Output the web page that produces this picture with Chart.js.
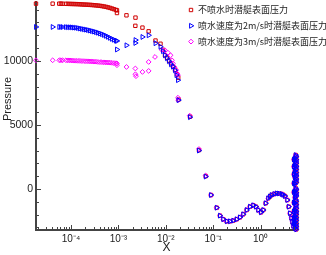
<!DOCTYPE html>
<html>
<head>
<meta charset="utf-8">
<script src="https://cdn.jsdelivr.net/npm/chart.js@4/dist/chart.umd.min.js"></script>
<style>
  html, body { margin: 0; padding: 0; background: #fff; }
  #wrap { width: 326px; height: 255px; }
</style>
</head>
<body>
<div id="wrap"><canvas id="pressure-chart" width="326" height="255"></canvas></div>
<script>
// labels
const seriesNames = ["不喷水时潜艇表面压力", "喷水速度为2m/s时潜艇表面压力", "喷水速度为3m/s时潜艇表面压力"];
const xTickValues = [1e-4, 1e-3, 1e-2, 1e-1, 1];
const xTickLabels = ["10⁻⁴", "10⁻³", "10⁻²", "10⁻¹", "10⁰"];
const yTickValues = [0, 5000, 10000];
const yTitle = "Pressure";

// bow part (same stations for all three runs)
const noseX = [1.83e-5, 4.11e-5, 5.66e-5, 6.15e-5, 6.68e-5,
  7.84e-5, 8.64e-5, 9.53e-5, 1.05e-4, 1.157e-4, 1.275e-4, 1.405e-4, 1.548e-4, 1.707e-4, 1.88e-4,
  2.072e-4, 2.284e-4, 2.517e-4, 2.773e-4, 3.056e-4, 3.368e-4, 3.712e-4, 4.09e-4, 4.508e-4, 4.968e-4,
  5.475e-4, 6.034e-4, 6.649e-4, 7.328e-4, 8.076e-4, 8.9e-4, 9.34e-4, 9.34e-4];

// no jet
const redX = [1.482e-3, 2.296e-3, 2.28e-3, 3.22e-3, 4.35e-3, 6.07e-3, 7.73e-3,
  8.73e-3, 9.62e-3, 1.06e-2, 1.169e-2, 1.288e-2, 1.419e-2, 1.563e-2, 1.722e-2, 1.83e-2, 1.853e-2,
  3.24e-2, 5.01e-2, 6.95e-2];
const redNoseP = [14470, 14470, 14470, 14468, 14465,
  14460, 14455, 14450, 14445, 14440, 14435, 14430, 14420, 14410, 14400,
  14395, 14385, 14375, 14365, 14350, 14335, 14320, 14300, 14280, 14250,
  14220, 14180, 14140, 14090, 14040, 13980, 13950, 13740];
const redP = [13560, 13380, 12740, 12600, 12310, 11590, 11340,
  10870, 10440, 10250, 10020, 9820, 9590, 9310, 8960, 8690, 6980,
  5650, 3040, 1010];

// jet 2 m/s
const blueX = [1.482e-3, 2.28e-3, 2.30e-3, 3.22e-3, 4.35e-3, 6.07e-3, 7.73e-3,
  8.73e-3, 9.62e-3, 1.06e-2, 1.169e-2, 1.288e-2, 1.419e-2, 1.563e-2, 1.68e-2, 1.808e-2, 1.853e-2,
  3.24e-2, 5.01e-2, 6.95e-2];
const blueNoseP = [12650, 12650, 12650, 12648, 12645,
  12640, 12630, 12625, 12620, 12600, 12590, 12565, 12530, 12500, 12470,
  12440, 12410, 12370, 12330, 12290, 12245, 12200, 12140, 12090, 12025,
  11955, 11880, 11800, 11720, 11650, 11580, 11560, 10890];
const blueP = [11220, 11400, 11630, 11870, 12000, 11380, 11110,
  10760, 10440, 10210, 9980, 9740, 9550, 9270, 8890, 8500, 6940,
  5610, 3000, 970];

// jet 3 m/s
const magX = [1.482e-3, 2.28e-3, 2.29e-3, 2.35e-3, 3.22e-3, 4.35e-3, 4.35e-3, 5.92e-3, 8.2e-3,
  9.62e-3, 1.11e-2, 1.26e-2, 1.352e-2, 1.419e-2, 1.53e-2, 1.665e-2, 1.722e-2, 1.808e-2, 1.808e-2, 1.83e-2,
  3.2e-2, 5.01e-2, 6.95e-2];
const magNoseP = [10050, 10050, 10050, 10050, 10050,
  10050, 10045, 10040, 10030, 10020, 10015, 10005, 10000, 9990, 9985,
  9975, 9970, 9960, 9955, 9945, 9940, 9920, 9905, 9900, 9890,
  9880, 9875, 9865, 9850, 9835, 9820, 9800, 9665];
const magP = [9530, 9410, 8960, 8810, 9140, 9220, 9920, 10310, 10870,
  10830, 10640, 10440, 10050, 9800, 9510, 9280, 9020, 8890, 7130, 6940,
  5730, 3120, 1050];

// aft part, the three runs lie on top of each other here
const tailX = [0.0899, 0.1185, 0.139, 0.163, 0.193, 0.226, 0.265, 0.313, 0.367, 0.431,
  0.509, 0.597, 0.701, 0.8, 0.894, 1.02, 1.14, 1.28, 1.45, 1.58, 1.71, 1.95, 2.19, 2.45,
  2.79, 3.0, 3.27, 3.66, 3.92, 4.17, 4.45, 4.67, 4.9,
  5.5, 5.65, 5.3, 5.65, 5.5, 5.65, 5.3, 5.65, 5.5, 5.65, 5.3, 5.65, 5.5, 5.65, 5.3, 5.65, 5.5, 5.65, 5.3,
  5.5, 5.65, 5.3, 5.65, 5.5, 5.65, 5.3,
  5.5, 5.65, 5.3, 5.65, 5.5,
  5.65, 5.3, 5.65, 5.5, 5.65, 5.3, 5.65, 5.5, 5.65, 5.3, 5.65, 5.5, 5.65, 5.3, 5.65,
  5.05, 5.05, 5.05, 5.05, 5.05, 5.05, 5.05, 5.05, 5.05];
const tailP = [-470, -1460, -2080, -2360, -2520, -2520, -2470, -2360, -2210, -1970,
  -1640, -1380, -1270, -1380, -1640, -1820, -1640, -1110, -720, -580, -470, -390, -340, -350,
  -390, -450, -550, -860, -1380, -1890, -2260, -2570, -2880,
  2650, 2520, 2400, 2280, 2150, 2020, 1900, 1780, 1650, 1520, 1400, 1280, 1150, 1020, 900, 780, 650, 520, 400,
  60, -60, -180, -300, -420, -540, -650,
  -850, -970, -1090, -1210, -1330,
  -1500, -1620, -1740, -1860, -1980, -2100, -2220, -2340, -2460, -2580, -2700, -2820, -2940, -3060, -3150,
  2300, 1750, 1150, 450, -250, -1050, -1750, -2250, -2700];

function toPoints(xs, ys) {
  return xs.map((x, i) => ({ x: x, y: ys[i] }));
}

const redPts = toPoints(noseX, redNoseP).concat(toPoints(redX, redP), toPoints(tailX, tailP));
const bluePts = toPoints(noseX, blueNoseP).concat(toPoints(blueX, blueP), toPoints(tailX, tailP));
const magPts = toPoints(noseX, magNoseP).concat(toPoints(magX, magP), toPoints(tailX, tailP));

// tick marks drawn inside the axes
const innerTicks = {
  id: 'innerTicks',
  afterDraw(chart) {
    const { ctx, chartArea, scales } = chart;
    const x = scales.x, y = scales.y;
    ctx.save();
    ctx.strokeStyle = '#444';
    ctx.lineWidth = 1;
    ctx.beginPath();
    for (let v = -3000; v <= 14000; v += 1000) {
      const py = Math.round(y.getPixelForValue(v)) + 0.5;
      const len = v % 5000 === 0 ? 5 : 3;
      ctx.moveTo(chartArea.left, py);
      ctx.lineTo(chartArea.left + len, py);
    }
    for (let e = -5; e <= 0; e++) {
      for (let k = 1; k <= 9; k++) {
        const v = k * Math.pow(10, e);
        if (v < x.min || v > x.max) continue;
        const px = Math.round(x.getPixelForValue(v)) + 0.5;
        const len = k === 1 ? 5 : 3;
        ctx.moveTo(px, chartArea.bottom);
        ctx.lineTo(px, chartArea.bottom - len);
      }
    }
    ctx.stroke();

    // y axis title, sits a bit above the middle like in the original
    ctx.fillStyle = '#222';
    ctx.font = '11px "Liberation Sans"';
    ctx.textAlign = 'center';
    ctx.textBaseline = 'middle';
    ctx.translate(8, 99);
    ctx.rotate(-Math.PI / 2);
    ctx.fillText(yTitle, 0, 0);
    ctx.restore();
  }
};

// legend box in the top right corner of the plot
const cornerLegend = {
  id: 'cornerLegend',
  afterDraw(chart) {
    const ctx = chart.ctx;
    ctx.save();
    chart.data.datasets.forEach((ds, i) => {
      const cy = 10 + i * 15.8;
      ctx.fillStyle = 'rgba(0,0,0,0)';
      ctx.strokeStyle = ds.borderColor;
      ctx.lineWidth = 1;
      Chart.helpers.drawPoint(ctx, {
        pointStyle: ds.pointStyle,
        rotation: ds.rotation || 0,
        radius: ds.pointRadius,
        borderWidth: 1
      }, 191, cy);
      ctx.fillStyle = '#222';
      ctx.font = '9px "Noto Sans CJK SC"';
      ctx.textBaseline = 'middle';
      ctx.textAlign = 'left';
      ctx.fillText(ds.label, 198, cy);
    });
    ctx.restore();
  }
};

function series(label, data, color, style, radius, rotation, order) {
  return {
    label: label,
    data: data,
    showLine: false,
    borderColor: color,
    backgroundColor: 'rgba(0,0,0,0)',
    pointBackgroundColor: 'rgba(0,0,0,0)',
    pointBorderColor: color,
    pointBorderWidth: 1,
    pointStyle: style,
    pointRadius: radius,
    pointHoverRadius: radius,
    pointRotation: rotation,
    rotation: rotation,
    order: order,
    clip: false
  };
}

new Chart(document.getElementById('pressure-chart').getContext('2d'), {
  type: 'scatter',
  data: {
    datasets: [
      series(seriesNames[0], redPts, '#d00000', 'rect', 2.4, 0, 2),
      series(seriesNames[1], bluePts, '#0000ff', 'triangle', 2.8, 90, 0),
      series(seriesNames[2], magPts, '#ff00ff', 'rectRot', 2.4, 0, 1)
    ]
  },
  options: {
    responsive: false,
    animation: false,
    devicePixelRatio: 1,
    layout: { autoPadding: false, padding: { left: 0, top: 2, right: 29, bottom: 0 } },
    plugins: {
      legend: { display: false },
      tooltip: { enabled: false }
    },
    scales: {
      x: {
        type: 'logarithmic',
        min: 1.83e-5,
        max: 5.86,
        afterFit: s => { s.height = 25; s.paddingLeft = 0; s.paddingRight = 0; },
        afterBuildTicks: s => { s.ticks = xTickValues.map(v => ({ value: v })); },
        grid: { display: false, drawTicks: false, tickLength: 0 },
        border: { display: true, color: '#444', width: 2 },
        ticks: {
          autoSkip: false,
          maxRotation: 0,
          padding: 3,
          color: '#222',
          font: { family: 'Liberation Sans', size: 10 },
          callback: v => xTickLabels[xTickValues.indexOf(v)]
        },
        title: {
          display: true,
          text: 'X',
          color: '#222',
          padding: { top: 0, bottom: 0 },
          font: { family: 'Liberation Sans', size: 12 }
        }
      },
      y: {
        min: -3200,
        max: 14600,
        afterFit: s => { s.width = 36; s.paddingTop = 0; s.paddingBottom = 0; },
        afterBuildTicks: s => { s.ticks = yTickValues.map(v => ({ value: v })); },
        grid: { display: false, drawTicks: false, tickLength: 0 },
        border: { display: true, color: '#444', width: 2 },
        ticks: {
          padding: 3,
          color: '#222',
          font: { family: 'Liberation Sans', size: 10.5 },
          callback: v => String(v)
        }
      }
    }
  },
  plugins: [innerTicks, cornerLegend]
});
</script>
</body>
</html>
